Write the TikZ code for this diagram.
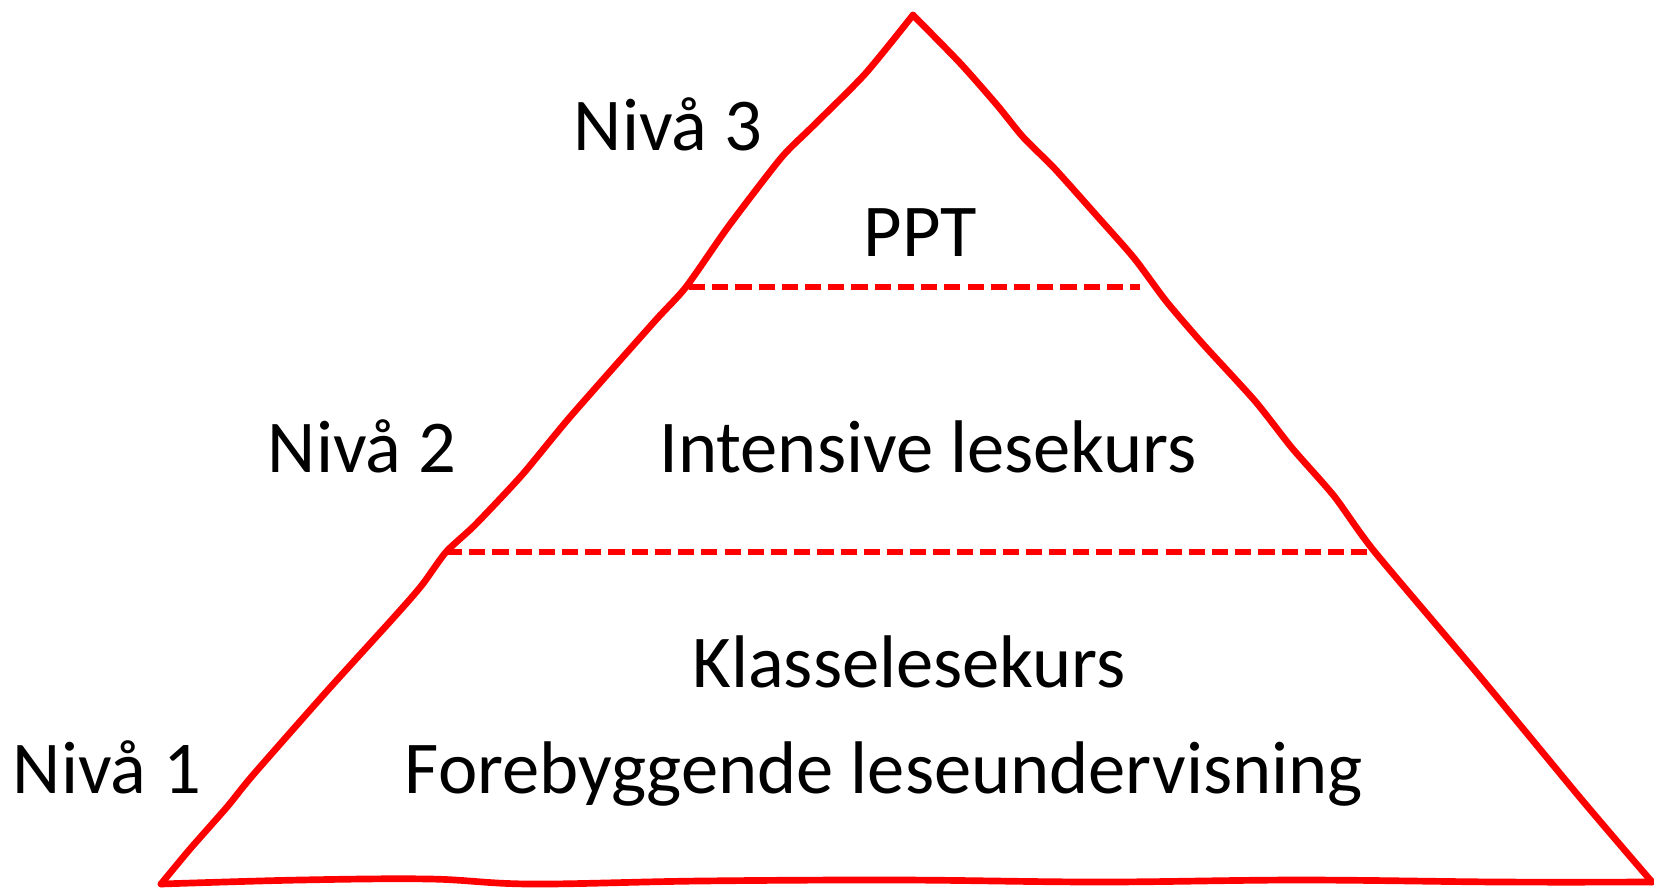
\documentclass[tikz,border=0pt]{standalone}
\usepackage{fontspec}
\setmainfont{Carlito}
\begin{document}
\begin{tikzpicture}[x=0.01cm,y=-0.01cm,
  redline/.style={draw={rgb,255:red,255;green,0;blue,0},line width=1.9pt,line cap=round,line join=round},
  reddash/.style={draw={rgb,255:red,255;green,0;blue,0},line width=1.9pt,dash pattern=on 4.6pt off 2pt},
  lbl/.style={anchor=base,inner sep=0pt,font=\fontsize{21.2}{25}\selectfont}]
\useasboundingbox (0,0) rectangle (1654,887);
% left side
\draw[redline] plot[smooth,tension=0.4] coordinates {(913,15) (865,74) (812,127) (781,158) (728,227) (686,287) (654,322) (570,417) (522,475) (475,525) (446,552) (422,585) (396,615) (327,691) (253,775) (227,807) (190,849) (161,884)};
% right side
\draw[redline] plot[smooth,tension=0.4] coordinates {(913,15) (960,63) (997,105) (1023,137) (1055,169) (1097,216) (1134,258) (1166,301) (1202,343) (1255,401) (1292,448) (1334,496) (1374,551) (1477,673) (1582,800) (1652,882)};
% bottom
\draw[redline] plot[smooth,tension=0.6] coordinates {(161,884) (300,880) (430,879) (530,884) (700,881) (900,880) (1100,882) (1300,880) (1500,882) (1652,882)};
% dashed separators
\coordinate (d1a) at (689,287);
\coordinate (d1b) at (1140,287);
\coordinate (d2a) at (446,552);
\coordinate (d2b) at (1374,552);
\draw[reddash] (d1a) -- (d1b);
\draw[reddash] (d2a) -- (d2b);
% labels
\node[lbl] (n3) at (668,150) {Nivå 3};
\node[lbl] (ppt) at (920,256) {PPT};
\node[lbl] (n2) at (362,472) {Nivå 2};
\node[lbl] (ints) at (928,472) {Intensive lesekurs};
\node[lbl] (kls) at (909,687) {Klasselesekurs};
\node[lbl] (n1) at (107,793) {Nivå 1};
\node[lbl] (fore) at (884,793) {Forebyggende leseundervisning};
\end{tikzpicture}
\end{document}
